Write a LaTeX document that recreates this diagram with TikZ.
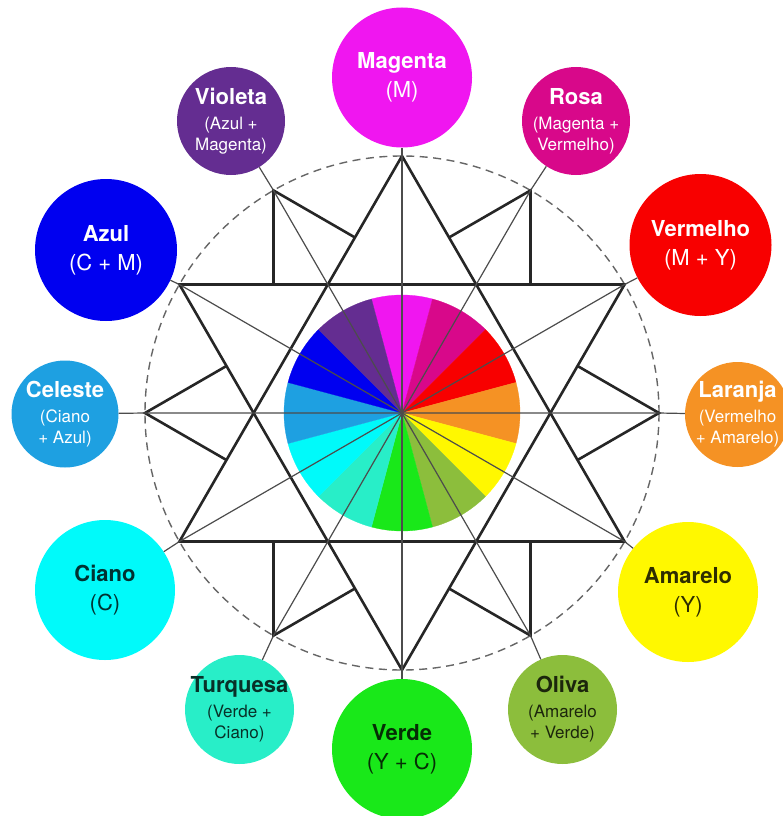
\documentclass[tikz,border=0pt]{standalone}
\usepackage{fontspec}
\setmainfont{TeX Gyre Heros}
\usetikzlibrary{calc}
\definecolor{cMag}{RGB}{240,22,240}
\definecolor{cRosa}{RGB}{216,8,138}
\definecolor{cVerm}{RGB}{248,0,0}
\definecolor{cLar}{RGB}{245,146,36}
\definecolor{cAma}{RGB}{255,248,0}
\definecolor{cOli}{RGB}{140,190,60}
\definecolor{cVerde}{RGB}{25,232,25}
\definecolor{cTurq}{RGB}{40,238,200}
\definecolor{cCiano}{RGB}{0,250,250}
\definecolor{cCel}{RGB}{30,160,225}
\definecolor{cAzul}{RGB}{0,0,240}
\definecolor{cViol}{RGB}{100,45,145}
\newcommand\hdrtxt[1]{{\bfseries\fontsize{22}{22}\selectfont #1}}
\begin{document}
\begin{tikzpicture}[x=1pt,y=1pt,
  thickln/.style={line width=2.6pt, draw=black!85, line join=miter},
  thinln/.style={line width=1.2pt, draw=black!70},
  dashc/.style={line width=1.4pt, draw=black!60, dash pattern=on 8pt off 5.5pt},
  bigc/.style={circle, minimum size=140pt, inner sep=0pt, draw=none},
  smallc/.style={circle, minimum size=108pt, inner sep=0pt, draw=none},
  bigt/.style={align=center, inner sep=0pt, font=\fontsize{22}{29}\selectfont},
  smallt/.style={align=center, inner sep=0pt, font=\fontsize{17}{21}\selectfont},
]
\useasboundingbox (0,-816) rectangle (783,0);
\begin{scope}[shift={(402,-413)}]
\coordinate (C) at (0,0);
% colour wheel
\foreach \a/\c in {90/cMag,60/cRosa,30/cVerm,0/cLar,-30/cAma,-60/cOli,-90/cVerde,-120/cTurq,-150/cCiano,180/cCel,150/cAzul,120/cViol}
  \filldraw[fill=\c, draw=\c, line width=0.3pt] (0,0) -- (\a-15:118) arc[start angle=\a-15, end angle=\a+15, radius=118pt] -- cycle;
% dashed circle
\draw[dashc] (C) circle[radius=257pt];
% hexagram
\draw[thickln] (90:257) -- (210:257) -- (330:257) -- cycle;
\draw[thickln] (30:257) -- (150:257) -- (270:257) -- cycle;
% spikes
\foreach \a in {0,60,120,180,240,300}
  \draw[thickln] (\a+15:181.7) -- (\a:257) -- (\a-15:181.7);
% vertex coordinates
\foreach \a/\n in {90/mag,60/rosa,30/verm,0/lar,-30/ama,-60/oli,-90/verde,-120/turq,-150/ciano,180/cel,150/azul,120/viol}
  \coordinate (v\n) at (\a:257);
% circles
\node[bigc, fill=cMag] (mag) at (0,335.5) {};
\node[smallc, fill=cRosa] (rosa) at (174,292) {};
\node[bigc, fill=cVerm, minimum size=142pt] (verm) at (298.5,168) {};
\node[smallc, fill=cLar, minimum size=105pt] (lar) at (335.5,-1.5) {};
\node[bigc, fill=cAma] (ama) at (286,-179) {};
\node[smallc, fill=cOli, minimum size=109pt] (oli) at (160.5,-296.5) {};
\node[bigc, fill=cVerde] (verde) at (0,-336) {};
\node[smallc, fill=cTurq, minimum size=109pt] (turq) at (-162.5,-296.5) {};
\node[bigc, fill=cCiano] (ciano) at (-297,-177) {};
\node[smallc, fill=cCel, minimum size=107pt] (cel) at (-337,-1) {};
\node[bigc, fill=cAzul, minimum size=142pt] (azul) at (-296,163) {};
\node[smallc, fill=cViol] (viol) at (-171,292) {};
% spokes
\foreach \n in {mag,rosa,verm,lar,ama,oli,verde,turq,ciano,cel,azul,viol}
  \draw[thinln] (C) -- (v\n) -- (\n);
% texts
\node[bigt, text=white] (mag-t) at (mag) {\hdrtxt{Magenta}\\(M)};
\node[smallt, text=white] (rosa-t) at (rosa) {\hdrtxt{Rosa}\\[4pt](Magenta +\\Vermelho)};
\node[bigt, text=white] (verm-t) at (verm) {\hdrtxt{Vermelho}\\(M + Y)};
\node[smallt, text=white] (lar-t) at (lar) {\hdrtxt{Laranja}\\[4pt](Vermelho\\+ Amarelo)};
\node[bigt, text=black!82!cAma] (ama-t) at (ama) {\hdrtxt{Amarelo}\\(Y)};
\node[smallt, text=black!80!cOli] (oli-t) at (oli) {\hdrtxt{Oliva}\\[4pt](Amarelo\\+ Verde)};
\node[bigt, text=black!80!cVerde] (verde-t) at (verde) {\hdrtxt{Verde}\\(Y + C)};
\node[smallt, text=black!80!cTurq] (turq-t) at (turq) {\hdrtxt{Turquesa}\\[4pt](Verde +\\Ciano)};
\node[bigt, text=black!80!cCiano] (ciano-t) at (ciano) {\hdrtxt{Ciano}\\(C)};
\node[smallt, text=white] (cel-t) at (cel) {\hdrtxt{Celeste}\\[4pt](Ciano\\+ Azul)};
\node[bigt, text=white] (azul-t) at (azul) {\hdrtxt{Azul}\\(C + M)};
\node[smallt, text=white] (viol-t) at (viol) {\hdrtxt{Violeta}\\[4pt](Azul +\\Magenta)};
\end{scope}
\end{tikzpicture}
\end{document}
